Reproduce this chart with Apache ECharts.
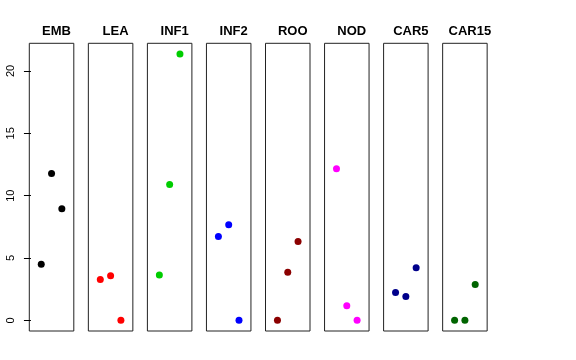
<!DOCTYPE html>
<html>
<head>
<meta charset="utf-8">
<script src="https://cdn.jsdelivr.net/npm/echarts@6/dist/echarts.min.js"></script>
<style>
html,body{margin:0;padding:0;background:#fff;}
#chart{width:576px;height:360px;}
</style>
</head>
<body>
<div id="chart"></div>
<script>
// ---- data ----
const categories = ['EMB', 'LEA', 'INF1', 'INF2', 'ROO', 'NOD', 'CAR5', 'CAR15'];
const slots = [1, 2, 3];
const EMB = [4.49, 11.78, 8.94];
const LEA = [3.28, 3.57, 0];
const INF1 = [3.63, 10.9, 21.36];
const INF2 = [6.73, 7.66, 0];
const ROO = [0, 3.85, 6.33];
const NOD = [12.15, 1.17, 0];
const CAR5 = [2.24, 1.92, 4.22];
const CAR15 = [0, 0, 2.88];
const yTicks = [0, 5, 10, 15, 20];
const colors = ['#000000', '#FF0000', '#00CD00', '#0000FF', '#8B0000', '#FF00FF', '#00008B', '#006400'];

const seriesValues = [EMB, LEA, INF1, INF2, ROO, NOD, CAR5, CAR15];

// R-style axis range (4% extension)
const all = seriesValues.flat();
const dmin = Math.min(...all), dmax = Math.max(...all);
const ext = 0.04 * (dmax - dmin);
const yMin = dmin - ext, yMax = dmax + ext;

const font = '"Liberation Sans", Arial, Helvetica, sans-serif';
const left0 = 29.3, step = 59.05, pw = 44.5, gTop = 43.3, ph = 287.7;

const grids = [], xAxes = [], yAxes = [], series = [], titles = [];
categories.forEach((c, i) => {
  const l = left0 + step * i;
  grids.push({left: l, top: gTop, width: pw, height: ph, show: true, borderColor: '#222', borderWidth: 1, backgroundColor: 'transparent'});
  xAxes.push({type: 'value', gridIndex: i, min: -0.16, max: 4.16, show: false});
  yAxes.push({
    type: 'value', gridIndex: i, min: yMin, max: yMax,
    show: i === 0,
    splitLine: {show: false},
    axisLine: {show: false},
    axisTick: {show: i === 0, length: 7, inside: false, customValues: yTicks, lineStyle: {color: '#000'}},
    axisLabel: {show: i === 0, customValues: yTicks, rotate: 90, margin: 13, fontSize: 11, color: '#000', fontFamily: font}
  });
  series.push({
    type: 'scatter', xAxisIndex: i, yAxisIndex: i, name: c,
    symbol: 'circle', symbolSize: 7,
    itemStyle: {color: colors[i], opacity: 1},
    data: seriesValues[i].map((v, k) => [slots[k], v])
  });
  titles.push({
    text: c, left: l + pw / 2, top: 20, textAlign: 'center',
    textStyle: {fontSize: 13, fontWeight: 'bold', color: '#000', fontFamily: font}
  });
});

const chart = echarts.init(document.getElementById('chart'), null, {renderer: 'canvas'});
chart.setOption({
  animation: false,
  backgroundColor: '#fff',
  title: titles,
  grid: grids,
  xAxis: xAxes,
  yAxis: yAxes,
  series: series
});
</script>
</body>
</html>
